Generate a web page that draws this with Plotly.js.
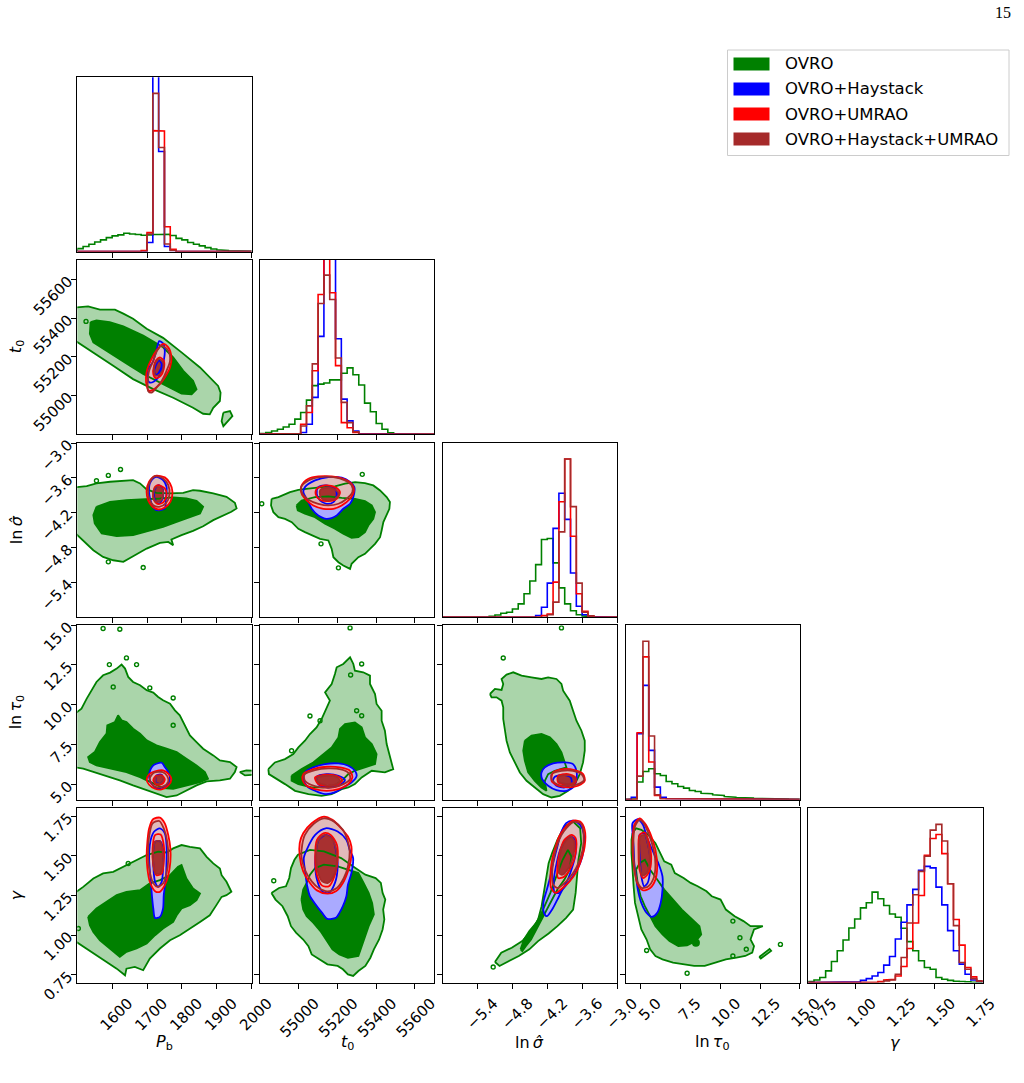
<!DOCTYPE html>
<html>
<head>
<meta charset="utf-8">
<script src="https://cdn.plot.ly/plotly-3.0.1.min.js"></script>
<style>
html, body { margin: 0; padding: 0; background: #fff; }
#plot { width: 1024px; height: 1083px; }
</style>
</head>
<body>
<div id="plot"></div>
<script>
// ---------- parameters ----------
const AXIS_TITLES = ['<i>P</i><sub>b</sub>', '<i>t</i><sub>0</sub>', 'ln\u2009<i>\u03C3\u0302</i>', 'ln\u2009<i>\u03C4</i><sub>0</sub>', '<i>\u03B3</i>'];
const AXIS_RANGES = [[1500, 2000], [54800, 55700], [-6.0, -3.0], [4.05, 15.0], [0.70, 1.80]];
const TICK_VALUES = [
  [1600, 1700, 1800, 1900, 2000],
  [55000, 55200, 55400, 55600],
  [-5.4, -4.8, -4.2, -3.6, -3.0],
  [5.0, 7.5, 10.0, 12.5, 15.0],
  [0.75, 1.00, 1.25, 1.50, 1.75]
];
const TICK_LABELS = [
  ['1600', '1700', '1800', '1900', '2000'],
  ['55000', '55200', '55400', '55600'],
  ['\u22125.4', '\u22124.8', '\u22124.2', '\u22123.6', '\u22123.0'],
  ['5.0', '7.5', '10.0', '12.5', '15.0'],
  ['0.75', '1.00', '1.25', '1.50', '1.75']
];
const SERIES = ['OVRO', 'OVRO+Haystack', 'OVRO+UMRAO', 'OVRO+Haystack+UMRAO'];

// ---------- 1-D marginal histograms (30 bins over each axis range) ----------
const H_PB_G = [1.7,2.9,4.2,5.5,6.7,8.0,9.0,9.6,10.5,10.1,9.8,9.4,9.6,9.8,9.8,9.9,9.2,7.6,6.7,5.2,4.2,3.3,2.3,1.5,1.0,0.6,0.4,0.2,0.2,0.2];
const H_PB_B = [0,0,0,0,0,0,0,0,0,0,0,0.2,5.2,110,57.4,2.9,0.6,0,0,0,0,0,0,0,0,0,0,0,0,0];
const H_PB_R = [0,0,0,0,0,0,0,0,0,0,0,0.6,10.9,69.4,69.2,14.3,1.3,0,0,0,0,0,0,0,0,0,0,0,0,0];
const H_PB_K = [0,0,0,0,0,0,0,0,0,0,0,0.2,10.1,90.8,59.7,4.4,0.6,0,0,0,0,0,0,0,0,0,0,0,0,0];

const H_T0_G = [0.4,1.0,1.9,2.9,4.2,5.8,8.7,12.5,19.6,27.9,28.8,29.4,31.2,31.2,35.0,38.1,34.2,28.3,17.9,12.9,6.2,2.9,0.8,0.2,0,0,0,0,0,0];
const H_T0_B = [0,0,0,0,0,0,0.4,1.0,5.8,21.2,56.2,110,108,54.8,20.2,7.7,1.9,0.4,0,0,0,0,0,0,0,0,0,0,0,0];
const H_T0_R = [0,0,0,0,0,0.2,0.4,5.8,12.5,36.5,80.2,110,81.2,39.4,6.7,3.8,1.0,0.2,0,0,0,0,0,0,0,0,0,0,0,0];
const H_T0_K = [0,0,0,0,0,0.2,0.4,4.8,16.3,40.4,75.0,91.3,77.3,43.8,18.3,6.7,1.5,0.2,0,0,0,0,0,0,0,0,0,0,0,0];

const H_LS_G = [0,0,0,0,0,0,0,0,0.6,1.3,2.3,2.9,4.8,7.7,13.5,20.8,30.2,44.6,45.2,31.2,16.9,7.7,3.8,1.5,0.8,0.4,0,0,0,0];
const H_LS_B = [0,0,0,0,0,0,0,0,0,0,0,0,0,0,0,0,1.0,5.8,19.6,51.0,71.2,56.2,25.4,6.3,1.5,0.4,0,0,0,0];
const H_LS_R = [0,0,0,0,0,0,0,0,0,0,0,0,0,0,0,0,0,1.0,1.9,20.2,66.3,90.8,46.5,13.5,3.5,0.8,0,0,0,0];
const H_LS_K = [0,0,0,0,0,0,0,0,0,0,0,0,0,0,0,0,0,0,1.5,8.7,49.0,90.8,63.5,19.6,2.9,0.8,0,0,0,0];

const H_LT_G = [0,0.4,10.0,16.1,17.6,14.8,13.8,10.3,9.0,7.5,6.5,5.2,4.6,3.6,3.3,2.7,2.3,1.7,1.3,1.1,1.0,0.8,0.6,0.5,0.4,0.3,0.2,0.2,0.1,0.1];
const H_LT_B = [0,1.3,37.7,65.5,28.2,7.1,1.3,0.4,0,0,0,0,0,0,0,0,0,0,0,0,0,0,0,0,0,0,0,0,0,0];
const H_LT_R = [0,0,38.3,81.8,21.5,2.3,0.4,0,0,0,0,0,0,0,0,0,0,0,0,0,0,0,0,0,0,0,0,0,0,0];
const H_LT_K = [0,0,13.4,90.8,36.4,2.7,0.4,0,0,0,0,0,0,0,0,0,0,0,0,0,0,0,0,0,0,0,0,0,0,0];

const H_GA_G = [0.6,1.5,2.9,6.7,12.1,18.3,24.4,31.3,36.5,42.9,45.8,51.9,48.1,44.2,39.4,37.5,31.2,23.5,18.3,12.5,8.7,7.7,2.9,1.9,1.3,0.8,0.6,0.4,0.2,0.2];
const H_GA_B = [0,0,0,0,0,0.2,0.2,0.2,0.4,1.3,2.3,3.8,5.8,10.0,15.0,25.0,34.6,44.6,53.5,64.4,66.7,65.8,54.8,44.6,29.8,18.3,10.6,4.8,1.5,0.6];
const H_GA_R = [0,0,0,0,0,0,0,0,0,0,0,0,0.6,1.5,1.9,3.8,9.2,19.6,34.2,50.0,73.1,82.7,85.0,74.0,56.7,36.2,21.5,8.7,3.3,1.0];
const H_GA_K = [0,0,0,0,0,0,0,0,0,0,0,0,0,1.0,1.5,4.8,14.4,34.2,50.4,63.8,72.5,87.5,90.8,81.2,56.7,32.7,11.5,7.7,2.3,1.0];

// ---------- 2-D credible regions: outer / inner contour outlines ----------
// P_b vs t_0
const PB_T0_G_OUT = [[1490,55454],[1531,55461],[1565,55444],[1608,55444],[1632,55423],[1660,55397],[1699,55345],[1746,55298],[1799,55223],[1852,55145],[1904,55050],[1911,55015],[1909,54972],[1890,54937],[1880,54903],[1861,54906],[1832,54937],[1775,54989],[1718,55033],[1660,55085],[1603,55154],[1546,55223],[1490,55288]];
const PB_T0_G_IN = [[1538,55379],[1555,55388],[1593,55379],[1632,55357],[1689,55310],[1746,55249],[1775,55197],[1804,55128],[1832,55076],[1842,55033],[1828,55007],[1799,55010],[1766,55041],[1727,55076],[1689,55111],[1651,55154],[1613,55197],[1574,55241],[1546,55275],[1536,55319],[1536,55353]];
const PB_T0_G_ISLAND = [[1919,54912],[1938,54920],[1945,54894],[1933,54868],[1919,54842],[1914,54868]];
const PB_T0_SPECKS = [[1525,55383]];
const PB_T0_B_OUT = [[1735,55281],[1746,55270],[1751,55232],[1748,55180],[1742,55137],[1732,55093],[1720,55073],[1708,55067],[1701,55093],[1703,55137],[1716,55171],[1727,55232]];
const PB_T0_B_IN = [[1735,55180],[1742,55163],[1737,55128],[1727,55107],[1721,55119],[1725,55154]];
const PB_T0_R_OUT = [[1746,55267],[1761,55249],[1770,55197],[1766,55145],[1751,55093],[1737,55059],[1720,55033],[1706,55024],[1699,55050],[1697,55093],[1701,55137],[1713,55189],[1727,55232]];
const PB_T0_R_IN = [[1737,55197],[1748,55180],[1748,55137],[1739,55102],[1725,55090],[1718,55111],[1720,55154],[1727,55184]];
const PB_T0_K_OUT = [[1742,55258],[1761,55232],[1766,55180],[1756,55128],[1742,55076],[1727,55041],[1713,55015],[1703,55024],[1702,55067],[1706,55128],[1718,55180],[1729,55232]];
const PB_T0_K_IN = [[1735,55189],[1746,55171],[1746,55137],[1737,55111],[1725,55102],[1720,55125],[1723,55163]];

// P_b vs ln sigma
const PB_LS_G_OUT = [[1490,-3.765],[1527,-3.742],[1555,-3.696],[1594,-3.667],[1660,-3.638],[1680,-3.696],[1699,-3.799],[1727,-3.857],[1766,-3.868],[1804,-3.857],[1832,-3.811],[1852,-3.822],[1890,-3.868],[1928,-3.926],[1952,-4.029],[1957,-4.127],[1942,-4.184],[1919,-4.242],[1890,-4.328],[1861,-4.432],[1832,-4.512],[1799,-4.587],[1770,-4.661],[1775,-4.759],[1761,-4.702],[1737,-4.719],[1699,-4.817],[1660,-4.949],[1632,-5.046],[1603,-5.018],[1574,-4.960],[1546,-4.845],[1517,-4.673],[1490,-4.529]];
const PB_LS_G_IN = [[1555,-4.098],[1594,-4.012],[1641,-3.983],[1689,-3.972],[1737,-3.955],[1775,-3.937],[1813,-3.955],[1842,-3.995],[1861,-4.098],[1852,-4.213],[1823,-4.271],[1785,-4.357],[1746,-4.443],[1699,-4.529],[1660,-4.587],[1613,-4.604],[1570,-4.558],[1550,-4.385],[1546,-4.242]];
const PB_LS_SPECKS = [[1555,-3.65],[1589,-3.558],[1624,-3.455],[1589,-5.046],[1689,-5.144]];
const PB_LS_B_OUT = [[1727,-3.581],[1746,-3.638],[1756,-3.753],[1754,-3.983],[1751,-4.127],[1737,-4.156],[1723,-4.144],[1713,-4.041],[1706,-3.868],[1708,-3.696],[1718,-3.610]];
const PB_LS_B_IN = [[1732,-3.725],[1745,-3.782],[1745,-3.955],[1735,-4.041],[1724,-3.995],[1720,-3.840]];
const PB_LS_R_OUT = [[1727,-3.564],[1751,-3.592],[1766,-3.696],[1773,-3.839],[1767,-4.012],[1751,-4.110],[1732,-4.144],[1716,-4.098],[1703,-3.983],[1699,-3.811],[1706,-3.667],[1716,-3.592]];
const PB_LS_R_IN = [[1732,-3.725],[1751,-3.782],[1756,-3.897],[1748,-4.012],[1732,-4.052],[1720,-3.983],[1718,-3.839],[1723,-3.753]];
const PB_LS_K_OUT = [[1723,-3.570],[1746,-3.610],[1761,-3.725],[1764,-3.897],[1754,-4.041],[1735,-4.098],[1718,-4.070],[1706,-3.955],[1703,-3.782],[1710,-3.650]];
const PB_LS_K_IN = [[1727,-3.753],[1742,-3.782],[1746,-3.897],[1739,-3.995],[1725,-4.012],[1718,-3.926],[1720,-3.811]];

// P_b vs ln tau_0
const PB_LT_G_OUT = [[1490,9.38],[1512,9.757],[1527,10.387],[1541,10.911],[1555,11.435],[1574,11.854],[1594,12.022],[1613,12.274],[1627,12.525],[1637,12.274],[1646,11.75],[1660,11.435],[1680,11.225],[1699,10.911],[1718,10.764],[1732,10.491],[1746,10.282],[1766,10.072],[1780,9.652],[1794,9.338],[1809,8.709],[1823,8.08],[1842,7.66],[1861,7.241],[1890,6.822],[1909,6.507],[1938,6.402],[1957,6.088],[1952,5.773],[1938,5.354],[1909,5.249],[1871,5.186],[1842,4.934],[1813,4.62],[1785,4.305],[1756,4.2],[1727,4.41],[1699,4.62],[1660,4.934],[1622,5.249],[1584,5.521],[1546,5.773],[1517,5.983],[1490,6.088]];
const PB_LT_G_ISLAND = [[1966,5.773],[1985,5.878],[2010,5.86],[2010,5.61],[1981,5.564]];
const PB_LT_G_IN = [[1550,7.031],[1565,7.66],[1584,8.185],[1586,8.709],[1608,8.919],[1617,9.338],[1627,9.023],[1641,8.919],[1660,8.499],[1680,8.185],[1699,7.765],[1727,7.451],[1756,7.241],[1785,7.031],[1813,6.612],[1842,6.192],[1866,5.773],[1875,5.354],[1852,5.144],[1813,4.934],[1775,4.725],[1746,4.767],[1718,5.039],[1680,5.458],[1641,5.773],[1594,5.983],[1555,6.192],[1536,6.402],[1531,6.717]];
const PB_LT_SPECKS = [[1574,14.79],[1622,14.75],[1641,12.945],[1592,12.525],[1670,12.525],[1708,11.06],[1775,10.43],[1775,8.71],[1603,11.12]];
const PB_LT_B_OUT = [[1727,6.297],[1742,6.36],[1751,6.088],[1761,5.773],[1766,5.354],[1761,5.039],[1746,4.829],[1727,4.767],[1713,5.039],[1706,5.459],[1710,5.941],[1718,6.193]];
const PB_LT_B_IN = [[1727,5.563],[1742,5.605],[1746,5.249],[1737,5.039],[1725,5.144]];
const PB_LT_R_OUT = [[1723,5.815],[1746,5.878],[1764,5.605],[1770,5.312],[1761,4.934],[1742,4.683],[1723,4.725],[1706,4.976],[1699,5.312],[1708,5.668]];
const PB_LT_R_IN = [[1725,5.521],[1742,5.563],[1751,5.312],[1744,5.039],[1727,4.976],[1718,5.249]];
const PB_LT_K_OUT = [[1720,5.731],[1745,5.773],[1758,5.521],[1761,5.186],[1748,4.892],[1727,4.829],[1713,5.039],[1708,5.396]];
const PB_LT_K_IN = [[1725,5.458],[1742,5.5],[1746,5.249],[1737,5.039],[1724,5.102]];

// P_b vs gamma
const PB_GA_G_OUT = [[1490,1.262],[1517,1.304],[1546,1.357],[1574,1.389],[1603,1.399],[1632,1.431],[1660,1.467],[1699,1.505],[1732,1.526],[1756,1.521],[1775,1.547],[1799,1.568],[1823,1.557],[1852,1.547],[1871,1.494],[1890,1.452],[1909,1.42],[1914,1.378],[1928,1.336],[1942,1.273],[1928,1.252],[1914,1.241],[1899,1.189],[1880,1.125],[1852,1.083],[1823,1.041],[1794,0.999],[1766,0.967],[1737,0.915],[1708,0.852],[1689,0.778],[1665,0.799],[1641,0.788],[1637,0.746],[1613,0.788],[1584,0.83],[1555,0.873],[1527,0.915],[1507,0.946],[1490,0.967]];
const PB_GA_G_IN = [[1531,1.115],[1555,1.168],[1584,1.21],[1613,1.252],[1641,1.273],[1680,1.283],[1708,1.326],[1737,1.347],[1766,1.378],[1789,1.431],[1799,1.442],[1813,1.357],[1832,1.294],[1852,1.262],[1842,1.22],[1823,1.189],[1799,1.168],[1785,1.125],[1775,1.083],[1746,1.041],[1723,0.999],[1699,0.946],[1670,0.915],[1641,0.894],[1622,0.862],[1594,0.915],[1565,0.967],[1546,1.02],[1536,1.062]];
const PB_GA_SPECKS = [[1646,1.452],[1503,1.041]];
const PB_GA_B_OUT = [[1720,1.652],[1737,1.673],[1751,1.642],[1756,1.568],[1756,1.463],[1754,1.357],[1748,1.252],[1746,1.168],[1737,1.115],[1723,1.108],[1718,1.168],[1714,1.252],[1710,1.357],[1706,1.484],[1708,1.568],[1713,1.62]];
const PB_GA_B_IN = [[1723,1.589],[1737,1.593],[1746,1.547],[1746,1.42],[1742,1.336],[1732,1.305],[1723,1.336],[1718,1.442],[1718,1.536]];
const PB_GA_R_OUT = [[1718,1.732],[1737,1.741],[1751,1.705],[1761,1.631],[1767,1.547],[1767,1.463],[1761,1.378],[1751,1.315],[1737,1.273],[1723,1.277],[1708,1.336],[1701,1.42],[1699,1.505],[1701,1.589],[1706,1.673]];
const PB_GA_R_IN = [[1723,1.631],[1739,1.635],[1748,1.568],[1748,1.463],[1742,1.389],[1727,1.378],[1718,1.442],[1716,1.547]];
const PB_GA_K_OUT = [[1716,1.705],[1735,1.72],[1748,1.673],[1758,1.589],[1761,1.484],[1756,1.389],[1746,1.326],[1729,1.305],[1716,1.336],[1706,1.42],[1703,1.526],[1706,1.621]];
const PB_GA_K_IN = [[1723,1.589],[1737,1.593],[1745,1.526],[1745,1.442],[1737,1.389],[1725,1.389],[1718,1.452],[1718,1.536]];

// t_0 vs ln sigma
const T0_LS_G_OUT = [[54860,-3.96],[54895,-3.931],[54955,-3.845],[54998,-3.805],[55050,-3.787],[55119,-3.759],[55187,-3.747],[55239,-3.701],[55291,-3.672],[55342,-3.69],[55385,-3.73],[55420,-3.816],[55454,-3.931],[55471,-4.017],[55468,-4.132],[55454,-4.247],[55437,-4.362],[55428,-4.506],[55420,-4.621],[55394,-4.736],[55359,-4.851],[55342,-4.908],[55308,-4.966],[55273,-5.08],[55265,-5.167],[55230,-5.109],[55205,-5.052],[55179,-4.966],[55170,-4.822],[55153,-4.678],[55110,-4.649],[55067,-4.592],[55032,-4.534],[54998,-4.477],[54964,-4.362],[54929,-4.305],[54895,-4.276],[54869,-4.19],[54857,-4.075]];
const T0_LS_G_IN = [[54989,-4.075],[55015,-3.989],[55084,-3.931],[55153,-3.92],[55222,-3.943],[55291,-3.96],[55342,-4.0],[55377,-4.075],[55394,-4.19],[55385,-4.305],[55359,-4.42],[55342,-4.535],[55308,-4.621],[55273,-4.632],[55230,-4.563],[55187,-4.477],[55136,-4.391],[55084,-4.276],[55032,-4.218],[54995,-4.161]];
const T0_LS_SPECKS = [[54809,-4.046],[55328,-3.54],[55115,-4.736],[55205,-5.149]];
const T0_LS_B_OUT = [[55032,-3.759],[55084,-3.644],[55153,-3.586],[55222,-3.598],[55265,-3.672],[55287,-3.759],[55282,-3.931],[55265,-4.046],[55230,-4.132],[55196,-4.247],[55144,-4.305],[55101,-4.247],[55067,-4.132],[55046,-3.989],[55024,-3.845]];
const T0_LS_B_IN = [[55101,-3.759],[55144,-3.73],[55187,-3.787],[55196,-3.902],[55179,-4.017],[55144,-4.046],[55110,-3.989],[55093,-3.874]];
const T0_LS_R_OUT = [[55015,-3.73],[55050,-3.615],[55101,-3.575],[55170,-3.575],[55230,-3.615],[55273,-3.701],[55285,-3.816],[55265,-3.96],[55222,-4.075],[55179,-4.132],[55127,-4.132],[55075,-4.075],[55041,-3.989],[55015,-3.874]];
const T0_LS_R_IN = [[55093,-3.787],[55136,-3.73],[55187,-3.759],[55213,-3.845],[55196,-3.96],[55153,-4.0],[55110,-3.977],[55088,-3.885]];
const T0_LS_K_OUT = [[55012,-3.759],[55050,-3.644],[55110,-3.586],[55179,-3.586],[55239,-3.644],[55273,-3.73],[55277,-3.845],[55248,-3.96],[55205,-4.046],[55153,-4.075],[55101,-4.046],[55050,-3.977],[55019,-3.874]];
const T0_LS_K_IN = [[55110,-3.816],[55144,-3.77],[55187,-3.799],[55208,-3.874],[55187,-3.96],[55144,-3.989],[55115,-3.943]];

// t_0 vs ln tau_0
const T0_LT_G_OUT = [[54843,5.96],[54877,6.379],[54929,6.589],[54972,6.903],[54998,7.324],[55032,7.742],[55058,8.162],[55092,8.581],[55118,9.105],[55144,9.839],[55161,10.259],[55136,10.783],[55170,11.307],[55187,11.936],[55196,12.356],[55230,12.566],[55265,12.985],[55282,12.566],[55290,12.146],[55333,12.041],[55368,11.832],[55368,11.307],[55394,10.678],[55402,10.049],[55428,9.629],[55428,8.999],[55445,8.37],[55454,7.532],[55471,6.694],[55488,5.96],[55445,5.75],[55377,5.855],[55325,5.436],[55290,5.016],[55256,4.807],[55222,4.702],[55170,4.387],[55118,4.282],[55050,4.387],[54981,4.597],[54929,5.016],[54877,5.436],[54846,5.645]];
const T0_LT_G_IN = [[54963,5.541],[55015,5.96],[55075,6.379],[55127,6.903],[55170,7.324],[55205,7.952],[55213,8.477],[55239,8.791],[55290,8.896],[55325,8.581],[55342,7.952],[55377,7.532],[55402,6.903],[55394,6.274],[55342,6.065],[55290,5.855],[55256,5.645],[55222,5.226],[55187,4.912],[55127,4.807],[55067,4.807],[54998,5.016],[54963,5.226]];
const T0_LT_SPECKS = [[55265,14.83],[55325,12.566],[55268,11.874],[55325,9.315],[55299,9.63],[55110,9.0],[55058,9.3],[54963,7.113]];
const T0_LT_B_OUT = [[55032,5.75],[55075,6.065],[55136,6.274],[55205,6.316],[55256,6.169],[55290,5.855],[55299,5.541],[55273,5.121],[55230,4.807],[55187,4.492],[55136,4.387],[55084,4.597],[55041,4.912],[55024,5.331]];
const T0_LT_B_IN = [[55093,5.478],[55144,5.645],[55205,5.541],[55239,5.268],[55205,4.912],[55144,4.807],[55101,5.016]];
const T0_LT_R_OUT = [[55024,5.645],[55075,5.96],[55144,6.107],[55213,6.065],[55265,5.855],[55277,5.436],[55256,5.016],[55205,4.702],[55144,4.597],[55084,4.702],[55041,4.912],[55020,5.268]];
const T0_LT_R_IN = [[55084,5.436],[55144,5.604],[55205,5.478],[55225,5.226],[55196,4.975],[55144,4.912],[55098,5.058]];
const T0_LT_K_OUT = [[55029,5.604],[55084,5.897],[55153,6.002],[55218,5.939],[55260,5.687],[55265,5.331],[55230,5.016],[55179,4.807],[55118,4.807],[55063,4.975],[55032,5.226]];
const T0_LT_K_IN = [[55093,5.394],[55144,5.541],[55201,5.436],[55213,5.184],[55184,4.975],[55136,4.975],[55101,5.121]];

// ln sigma vs ln tau_0
const LS_LT_G_OUT = [[-5.187,10.678],[-5.101,10.993],[-4.987,10.93],[-4.958,11.307],[-4.987,11.622],[-4.901,11.894],[-4.786,12.041],[-4.643,11.832],[-4.471,11.726],[-4.3,11.622],[-4.185,11.726],[-4.042,11.622],[-3.956,11.307],[-3.927,10.888],[-3.87,10.573],[-3.813,10.259],[-3.756,9.629],[-3.698,9.0],[-3.612,8.371],[-3.555,7.742],[-3.555,7.113],[-3.584,6.379],[-3.641,5.645],[-3.727,5.016],[-3.842,4.597],[-3.985,4.282],[-4.128,4.177],[-4.271,4.387],[-4.414,4.807],[-4.557,5.226],[-4.672,5.75],[-4.758,6.379],[-4.844,7.008],[-4.901,7.742],[-4.93,8.371],[-4.958,9.105],[-4.958,9.839],[-4.987,10.259],[-5.073,10.469],[-5.159,10.469]];
const LS_LT_G_IN = [[-4.586,7.742],[-4.471,8.057],[-4.3,8.162],[-4.156,7.952],[-4.042,7.532],[-3.956,7.008],[-3.899,6.379],[-3.87,6.065],[-4.07,5.855],[-4.185,5.645],[-4.242,5.226],[-4.214,4.597],[-4.3,4.807],[-4.414,5.226],[-4.529,5.75],[-4.586,6.484],[-4.614,7.113]];
const LS_LT_SPECKS = [[-4.958,12.943],[-3.956,14.83]];
const LS_LT_B_OUT = [[-4.242,6.065],[-4.099,6.316],[-3.899,6.379],[-3.756,6.274],[-3.698,5.855],[-3.698,5.331],[-3.756,4.807],[-3.87,4.597],[-4.042,4.639],[-4.185,4.912],[-4.288,5.331],[-4.3,5.75]];
const LS_LT_B_IN = [[-4.07,5.478],[-3.927,5.604],[-3.796,5.436],[-3.784,5.016],[-3.899,4.807],[-4.042,4.912],[-4.099,5.226]];
const LS_LT_R_OUT = [[-4.099,5.75],[-3.927,5.96],[-3.727,5.897],[-3.584,5.645],[-3.555,5.226],[-3.67,4.912],[-3.842,4.807],[-4.013,4.912],[-4.128,5.226]];
const LS_LT_R_IN = [[-4.013,5.541],[-3.842,5.645],[-3.715,5.436],[-3.715,5.121],[-3.842,4.975],[-4.013,5.121]];
const LS_LT_K_OUT = [[-4.128,5.645],[-3.956,5.855],[-3.756,5.855],[-3.601,5.604],[-3.567,5.268],[-3.67,5.016],[-3.842,4.912],[-4.013,4.975],[-4.116,5.268]];
const LS_LT_K_IN = [[-4.002,5.478],[-3.842,5.583],[-3.727,5.394],[-3.738,5.121],[-3.87,5.016],[-4.002,5.184]];

// t_0 vs gamma
const T0_GA_G_OUT = [[54859,1.266],[54898,1.297],[54934,1.308],[54951,1.36],[54960,1.423],[54978,1.475],[54996,1.507],[55023,1.521],[55058,1.538],[55130,1.528],[55219,1.486],[55281,1.433],[55308,1.412],[55344,1.381],[55397,1.36],[55424,1.329],[55433,1.266],[55447,1.224],[55436,1.161],[55442,1.098],[55433,1.035],[55415,0.972],[55388,0.91],[55370,0.857],[55344,0.805],[55308,0.773],[55281,0.742],[55254,0.752],[55228,0.784],[55201,0.805],[55148,0.815],[55103,0.847],[55067,0.878],[55050,0.93],[55023,0.972],[54987,1.014],[54960,1.056],[54943,1.119],[54916,1.182],[54880,1.224]];
const T0_GA_G_IN = [[55014,1.224],[55023,1.287],[55041,1.329],[55058,1.381],[55085,1.423],[55130,1.444],[55201,1.433],[55254,1.412],[55308,1.391],[55335,1.329],[55361,1.266],[55379,1.203],[55388,1.13],[55361,1.056],[55344,0.993],[55326,0.93],[55308,0.868],[55254,0.857],[55210,0.878],[55174,0.91],[55139,0.972],[55112,1.025],[55076,1.077],[55041,1.119],[55023,1.161]];
const T0_GA_SPECKS = [[54871,1.343]];
const T0_GA_B_OUT = [[55041,1.538],[55085,1.632],[55139,1.674],[55201,1.653],[55246,1.601],[55263,1.538],[55281,1.486],[55272,1.391],[55254,1.318],[55246,1.245],[55228,1.182],[55210,1.14],[55192,1.109],[55148,1.102],[55121,1.14],[55094,1.182],[55058,1.245],[55044,1.308],[55032,1.412],[55026,1.486]];
const T0_GA_B_IN = [[55103,1.601],[55139,1.632],[55174,1.611],[55192,1.538],[55201,1.433],[55187,1.329],[55156,1.266],[55121,1.276],[55094,1.35],[55085,1.454],[55090,1.538]];
const T0_GA_R_OUT = [[55023,1.643],[55067,1.706],[55130,1.748],[55174,1.727],[55219,1.674],[55254,1.622],[55272,1.559],[55269,1.475],[55254,1.402],[55228,1.329],[55192,1.276],[55148,1.261],[55094,1.282],[55058,1.329],[55023,1.402],[55005,1.496],[55005,1.58]];
const T0_GA_R_IN = [[55094,1.601],[55130,1.643],[55165,1.632],[55197,1.57],[55201,1.475],[55187,1.381],[55156,1.308],[55121,1.312],[55094,1.381],[55085,1.486]];
const T0_GA_K_OUT = [[55032,1.632],[55076,1.701],[55130,1.737],[55183,1.716],[55228,1.664],[55251,1.601],[55263,1.528],[55254,1.433],[55233,1.36],[55197,1.297],[55148,1.276],[55103,1.297],[55067,1.339],[55032,1.412],[55014,1.496],[55018,1.57]];
const T0_GA_K_IN = [[55103,1.601],[55133,1.632],[55169,1.611],[55192,1.549],[55197,1.465],[55183,1.381],[55151,1.329],[55121,1.339],[55098,1.402],[55090,1.496],[55094,1.57]];

// ln sigma vs gamma
const LS_GA_G_OUT = [[-5.101,0.83],[-4.992,0.889],[-4.811,0.92],[-4.63,0.962],[-4.479,1.025],[-4.358,1.098],[-4.298,1.182],[-4.256,1.276],[-4.219,1.37],[-4.177,1.454],[-4.117,1.517],[-4.026,1.601],[-3.905,1.685],[-3.755,1.716],[-3.634,1.674],[-3.616,1.58],[-3.664,1.475],[-3.694,1.37],[-3.712,1.266],[-3.755,1.161],[-3.875,1.109],[-4.026,1.056],[-4.177,1.01],[-4.358,0.962],[-4.509,0.91],[-4.69,0.868],[-4.871,0.836],[-5.022,0.805]];
const LS_GA_G_IN = [[-4.66,0.91],[-4.6,0.972],[-4.509,1.025],[-4.389,1.077],[-4.298,1.14],[-4.219,1.203],[-4.147,1.266],[-4.087,1.329],[-4.026,1.391],[-3.936,1.475],[-3.845,1.538],[-3.785,1.496],[-3.815,1.412],[-3.905,1.35],[-4.026,1.287],[-4.117,1.224],[-4.207,1.161],[-4.298,1.098],[-4.389,1.035],[-4.479,0.972],[-4.57,0.93],[-4.63,0.899]];
const LS_GA_SPECKS = [[-5.131,0.798]];
const LS_GA_B_OUT = [[-3.875,1.706],[-3.755,1.722],[-3.634,1.695],[-3.574,1.643],[-3.574,1.538],[-3.634,1.454],[-3.724,1.391],[-3.845,1.329],[-3.936,1.287],[-4.026,1.224],[-4.117,1.161],[-4.207,1.119],[-4.256,1.14],[-4.268,1.203],[-4.207,1.287],[-4.147,1.37],[-4.099,1.454],[-4.026,1.559],[-3.966,1.643]];
const LS_GA_B_IN = [[-3.905,1.59],[-3.797,1.622],[-3.724,1.601],[-3.712,1.517],[-3.785,1.412],[-3.875,1.329],[-3.996,1.266],[-4.075,1.27],[-4.087,1.35],[-4.039,1.454],[-3.978,1.538]];
const LS_GA_R_OUT = [[-3.905,1.674],[-3.755,1.722],[-3.634,1.716],[-3.556,1.664],[-3.556,1.559],[-3.616,1.475],[-3.694,1.402],[-3.815,1.339],[-3.936,1.297],[-4.056,1.266],[-4.135,1.297],[-4.147,1.37],[-4.117,1.475],[-4.056,1.559],[-3.996,1.622]];
const LS_GA_R_IN = [[-3.905,1.601],[-3.785,1.632],[-3.712,1.611],[-3.712,1.517],[-3.785,1.433],[-3.905,1.37],[-4.014,1.36],[-4.026,1.433],[-3.99,1.517]];
const LS_GA_K_OUT = [[-3.875,1.674],[-3.736,1.716],[-3.616,1.701],[-3.574,1.632],[-3.592,1.538],[-3.664,1.454],[-3.755,1.391],[-3.875,1.339],[-4.014,1.297],[-4.099,1.318],[-4.117,1.391],[-4.087,1.486],[-4.026,1.57],[-3.954,1.632]];
const LS_GA_K_IN = [[-3.893,1.59],[-3.797,1.622],[-3.736,1.59],[-3.755,1.496],[-3.833,1.423],[-3.936,1.381],[-3.996,1.391],[-3.99,1.475],[-3.954,1.549]];

// ln tau_0 vs gamma
const LT_GA_G_OUT = [[4.492,1.643],[4.714,1.674],[5.045,1.664],[5.488,1.632],[5.93,1.58],[6.262,1.517],[6.483,1.465],[6.926,1.444],[7.147,1.391],[7.7,1.36],[8.142,1.329],[8.585,1.308],[9.138,1.276],[9.47,1.245],[10.022,1.224],[10.354,1.161],[10.907,1.119],[11.46,1.088],[11.903,1.056],[12.677,1.056],[12.124,1.035],[11.903,0.972],[12.124,0.93],[12.013,0.889],[11.571,0.868],[11.018,0.857],[10.354,0.847],[9.691,0.826],[9.027,0.805],[8.363,0.805],[7.7,0.815],[7.036,0.826],[6.373,0.847],[5.93,0.868],[5.598,0.91],[5.377,0.972],[5.045,1.035],[4.824,1.119],[4.647,1.203],[4.559,1.308],[4.492,1.412],[4.426,1.517],[4.426,1.601]];
const LT_GA_G_IN = [[4.714,1.412],[4.935,1.454],[5.267,1.475],[5.598,1.412],[6.041,1.35],[6.483,1.287],[7.036,1.224],[7.589,1.161],[8.142,1.109],[8.695,1.056],[8.806,1.004],[8.474,0.962],[7.921,0.935],[7.368,0.93],[6.815,0.962],[6.373,1.004],[5.93,1.056],[5.598,1.119],[5.267,1.182],[5.001,1.245],[4.824,1.318]];
const LT_GA_G_ISLAND = [[12.45,0.862],[13.1,0.912],[13.2,0.9],[12.55,0.852]];
const LT_GA_SPECKS = [[10.796,1.088],[11.239,0.983],[11.637,0.91],[10.796,0.868],[13.783,0.941],[7.921,0.759],[5.377,0.903]];
const LT_GA_DOTS = [[8.474,0.951]];
const LT_GA_B_OUT = [[4.492,1.706],[4.824,1.731],[5.156,1.695],[5.377,1.622],[5.82,1.517],[6.151,1.444],[6.373,1.37],[6.373,1.287],[6.262,1.203],[6.041,1.14],[5.709,1.115],[5.377,1.14],[5.045,1.203],[4.824,1.287],[4.714,1.37],[4.603,1.454],[4.559,1.559],[4.492,1.643]];
const LT_GA_B_IN = [[4.935,1.632],[5.222,1.643],[5.443,1.58],[5.598,1.496],[5.598,1.412],[5.443,1.329],[5.222,1.308],[5.045,1.37],[4.957,1.475],[4.913,1.559]];
const LT_GA_R_OUT = [[4.603,1.695],[4.935,1.737],[5.267,1.706],[5.598,1.643],[5.93,1.538],[6.041,1.433],[5.93,1.35],[5.598,1.297],[5.156,1.282],[4.824,1.318],[4.603,1.412],[4.492,1.538],[4.514,1.632]];
const LT_GA_R_IN = [[4.935,1.632],[5.267,1.647],[5.532,1.58],[5.665,1.475],[5.488,1.391],[5.156,1.36],[4.935,1.412],[4.869,1.517]];
const LT_GA_K_OUT = [[4.647,1.685],[4.935,1.727],[5.222,1.701],[5.532,1.632],[5.82,1.538],[5.93,1.444],[5.82,1.36],[5.488,1.308],[5.089,1.297],[4.78,1.339],[4.603,1.433],[4.537,1.559]];
const LT_GA_K_IN = [[4.979,1.622],[5.267,1.632],[5.488,1.559],[5.576,1.465],[5.377,1.391],[5.111,1.375],[4.957,1.433],[4.913,1.538]];

// ---------- styling ----------
const FONT = 'DejaVu Sans, Verdana, sans-serif';
const W = 1024, H = 1083;
const COL_LEFT = [77.3, 260.0, 442.7, 625.5, 808.2];
const ROW_TOP = [77.3, 260.0, 443.0, 625.2, 808.3];
const PANEL = 174.3;
const LINE_COLORS = ['#008000', '#0000ff', '#ff0000', '#a52a2a'];
const FILL_OUTER = ['rgb(170,213,170)', 'rgb(170,170,255)', 'rgb(255,170,170)', 'rgb(225,186,186)'];
const FILL_INNER = ['rgb(0,128,0)', 'rgb(140,140,255)', 'rgb(255,140,140)', 'rgb(168,48,48)'];

// table of histograms per parameter and contour outlines per panel
const HISTS = [
  [H_PB_G, H_PB_B, H_PB_R, H_PB_K],
  [H_T0_G, H_T0_B, H_T0_R, H_T0_K],
  [H_LS_G, H_LS_B, H_LS_R, H_LS_K],
  [H_LT_G, H_LT_B, H_LT_R, H_LT_K],
  [H_GA_G, H_GA_B, H_GA_R, H_GA_K]
];
const CONTOURS = {
  '1,0': { levels: [[PB_T0_G_OUT, PB_T0_G_IN], [PB_T0_B_OUT, PB_T0_B_IN], [PB_T0_R_OUT, PB_T0_R_IN], [PB_T0_K_OUT, PB_T0_K_IN]], islands: [PB_T0_G_ISLAND], specks: PB_T0_SPECKS, dots: [] },
  '2,0': { levels: [[PB_LS_G_OUT, PB_LS_G_IN], [PB_LS_B_OUT, PB_LS_B_IN], [PB_LS_R_OUT, PB_LS_R_IN], [PB_LS_K_OUT, PB_LS_K_IN]], islands: [], specks: PB_LS_SPECKS, dots: [] },
  '3,0': { levels: [[PB_LT_G_OUT, PB_LT_G_IN], [PB_LT_B_OUT, PB_LT_B_IN], [PB_LT_R_OUT, PB_LT_R_IN], [PB_LT_K_OUT, PB_LT_K_IN]], islands: [PB_LT_G_ISLAND], specks: PB_LT_SPECKS, dots: [] },
  '4,0': { levels: [[PB_GA_G_OUT, PB_GA_G_IN], [PB_GA_B_OUT, PB_GA_B_IN], [PB_GA_R_OUT, PB_GA_R_IN], [PB_GA_K_OUT, PB_GA_K_IN]], islands: [], specks: PB_GA_SPECKS, dots: [] },
  '2,1': { levels: [[T0_LS_G_OUT, T0_LS_G_IN], [T0_LS_B_OUT, T0_LS_B_IN], [T0_LS_R_OUT, T0_LS_R_IN], [T0_LS_K_OUT, T0_LS_K_IN]], islands: [], specks: T0_LS_SPECKS, dots: [] },
  '3,1': { levels: [[T0_LT_G_OUT, T0_LT_G_IN], [T0_LT_B_OUT, T0_LT_B_IN], [T0_LT_R_OUT, T0_LT_R_IN], [T0_LT_K_OUT, T0_LT_K_IN]], islands: [], specks: T0_LT_SPECKS, dots: [] },
  '4,1': { levels: [[T0_GA_G_OUT, T0_GA_G_IN], [T0_GA_B_OUT, T0_GA_B_IN], [T0_GA_R_OUT, T0_GA_R_IN], [T0_GA_K_OUT, T0_GA_K_IN]], islands: [], specks: T0_GA_SPECKS, dots: [] },
  '3,2': { levels: [[LS_LT_G_OUT, LS_LT_G_IN], [LS_LT_B_OUT, LS_LT_B_IN], [LS_LT_R_OUT, LS_LT_R_IN], [LS_LT_K_OUT, LS_LT_K_IN]], islands: [], specks: LS_LT_SPECKS, dots: [] },
  '4,2': { levels: [[LS_GA_G_OUT, LS_GA_G_IN], [LS_GA_B_OUT, LS_GA_B_IN], [LS_GA_R_OUT, LS_GA_R_IN], [LS_GA_K_OUT, LS_GA_K_IN]], islands: [], specks: LS_GA_SPECKS, dots: [] },
  '4,3': { levels: [[LT_GA_G_OUT, LT_GA_G_IN], [LT_GA_B_OUT, LT_GA_B_IN], [LT_GA_R_OUT, LT_GA_R_IN], [LT_GA_K_OUT, LT_GA_K_IN]], islands: [LT_GA_G_ISLAND], specks: LT_GA_SPECKS, dots: LT_GA_DOTS }
};

// ---------- build ----------
const traces = [];
const layout = {
  width: W, height: H,
  margin: { l: 0, r: 0, t: 0, b: 0 },
  paper_bgcolor: '#fff', plot_bgcolor: '#fff',
  showlegend: false,
  font: { family: FONT, size: 15, color: '#000' },
  annotations: [], shapes: []
};

function closed(pts) {
  return {
    x: pts.map(p => p[0]).concat([pts[0][0]]),
    y: pts.map(p => p[1]).concat([pts[0][1]])
  };
}

function stepOutline(counts, range) {
  const n = counts.length, w = (range[1] - range[0]) / n;
  const xs = [range[0]], ys = [0];
  for (let i = 0; i < n; i++) {
    xs.push(range[0] + i * w, range[0] + (i + 1) * w);
    ys.push(counts[i], counts[i]);
  }
  xs.push(range[1]); ys.push(0);
  return { xs, ys };
}

const baseAxis = {
  showline: true, mirror: true, linecolor: '#000', linewidth: 1,
  showgrid: false, zeroline: false, fixedrange: true,
  ticks: 'outside', ticklen: 5, tickwidth: 1, tickcolor: '#000',
  tickfont: { family: FONT, size: 15, color: '#000' },
  tickmode: 'array', tickangle: -45
};

let idx = 0;
for (let r = 0; r < 5; r++) {
  for (let c = 0; c <= r; c++) {
    idx++;
    const s = idx === 1 ? '' : String(idx);
    const xa = 'x' + s, ya = 'y' + s;
    const x0 = COL_LEFT[c], y0 = ROW_TOP[r];
    const xAxis = Object.assign({}, baseAxis, {
      domain: [x0 / W, (x0 + PANEL) / W], anchor: ya, range: AXIS_RANGES[c],
      tickvals: TICK_VALUES[c], showticklabels: r === 4
    });
    if (r === 4) { xAxis.ticktext = TICK_LABELS[c]; xAxis.ticklabelshift = 16; }
    layout['xaxis' + s] = xAxis;
    if (r === c) {
      layout['yaxis' + s] = Object.assign({}, baseAxis, {
        domain: [1 - (y0 + PANEL) / H, 1 - y0 / H], anchor: xa, range: [0, 100],
        ticks: '', tickvals: [], showticklabels: false
      });
      HISTS[c].forEach((counts, k) => {
        const st = stepOutline(counts, AXIS_RANGES[c]);
        traces.push({
          type: 'scatter', mode: 'lines', x: st.xs, y: st.ys, xaxis: xa, yaxis: ya,
          line: { color: LINE_COLORS[k], width: 1.6 }, hoverinfo: 'skip', name: SERIES[k]
        });
      });
    } else {
      const yAxis = Object.assign({}, baseAxis, {
        domain: [1 - (y0 + PANEL) / H, 1 - y0 / H], anchor: xa, range: AXIS_RANGES[r],
        tickvals: TICK_VALUES[r], showticklabels: c === 0
      });
      if (c === 0) yAxis.ticktext = TICK_LABELS[r];
      layout['yaxis' + s] = yAxis;
      const panel = CONTOURS[r + ',' + c];
      // filled regions first, for every series
      panel.levels.forEach((pair, k) => {
        const shape = k === 0 ? 'linear' : 'spline';
        const polys = k === 0 ? [pair[0]].concat(panel.islands, [pair[1]]) : pair;
        polys.forEach(poly => {
          const isInner = poly === pair[1];
          const cl = closed(poly);
          traces.push({
            type: 'scatter', mode: 'lines', x: cl.x, y: cl.y, xaxis: xa, yaxis: ya,
            fill: 'toself', fillcolor: isInner ? FILL_INNER[k] : FILL_OUTER[k],
            line: { width: 0, shape: shape, smoothing: 0.8 }, hoverinfo: 'skip', name: SERIES[k]
          });
        });
      });
      // contour outlines drawn above all fills
      panel.levels.forEach((pair, k) => {
        const shape = k === 0 ? 'linear' : 'spline';
        const polys = k === 0 ? pair.concat(panel.islands) : pair;
        polys.forEach(poly => {
          const cl = closed(poly);
          traces.push({
            type: 'scatter', mode: 'lines', x: cl.x, y: cl.y, xaxis: xa, yaxis: ya,
            line: { color: LINE_COLORS[k], width: 1.8, shape: shape, smoothing: 0.8 },
            hoverinfo: 'skip', name: SERIES[k]
          });
        });
      });
      if (panel.specks.length) {
        traces.push({
          type: 'scatter', mode: 'markers', xaxis: xa, yaxis: ya,
          x: panel.specks.map(p => p[0]), y: panel.specks.map(p => p[1]),
          marker: { symbol: 'circle-open', size: 4, color: LINE_COLORS[0], line: { width: 1.4 } },
          hoverinfo: 'skip', name: SERIES[0]
        });
      }
      if (panel.dots.length) {
        traces.push({
          type: 'scatter', mode: 'markers', xaxis: xa, yaxis: ya,
          x: panel.dots.map(p => p[0]), y: panel.dots.map(p => p[1]),
          marker: { symbol: 'circle', size: 8, color: LINE_COLORS[0] },
          hoverinfo: 'skip', name: SERIES[0]
        });
      }
    }
  }
}

// axis titles
for (let c = 0; c < 5; c++) {
  layout.annotations.push({
    xref: 'paper', yref: 'paper', x: (COL_LEFT[c] + PANEL / 2) / W, y: 1 - 1042 / H,
    xanchor: 'center', yanchor: 'middle', showarrow: false, text: AXIS_TITLES[c],
    font: { family: FONT, size: 16, color: '#000' }
  });
}
for (let r = 1; r < 5; r++) {
  layout.annotations.push({
    xref: 'paper', yref: 'paper', x: 16 / W, y: 1 - (ROW_TOP[r] + PANEL / 2) / H,
    xanchor: 'center', yanchor: 'middle', showarrow: false, text: AXIS_TITLES[r], textangle: -90,
    font: { family: FONT, size: 16, color: '#000' }
  });
}

// page number
layout.annotations.push({
  xref: 'paper', yref: 'paper', x: 1003 / W, y: 1 - 13 / H, xanchor: 'center', yanchor: 'middle',
  showarrow: false, text: '15', font: { family: 'Liberation Serif, DejaVu Serif, serif', size: 16, color: '#000' }
});

// legend box with colour patches
layout.shapes.push({
  type: 'rect', xref: 'paper', yref: 'paper',
  x0: 727.5 / W, x1: 1009 / W, y0: 1 - 155.5 / H, y1: 1 - 50 / H,
  line: { color: '#cccccc', width: 1 }, fillcolor: 'rgba(255,255,255,0.8)', layer: 'above'
});
SERIES.forEach((name, k) => {
  const cy = 64 + k * 25;
  layout.shapes.push({
    type: 'rect', xref: 'paper', yref: 'paper',
    x0: 733.5 / W, x1: 769.5 / W, y0: 1 - (cy + 6.5) / H, y1: 1 - (cy - 6.5) / H,
    line: { width: 0 }, fillcolor: LINE_COLORS[k], layer: 'above'
  });
  layout.annotations.push({
    xref: 'paper', yref: 'paper', x: 783 / W, y: 1 - cy / H, xanchor: 'left', yanchor: 'middle',
    showarrow: false, text: name, font: { family: FONT, size: 16.5, color: '#000' }
  });
});

Plotly.newPlot('plot', traces, layout, { staticPlot: true, displayModeBar: false });
</script>
</body>
</html>
